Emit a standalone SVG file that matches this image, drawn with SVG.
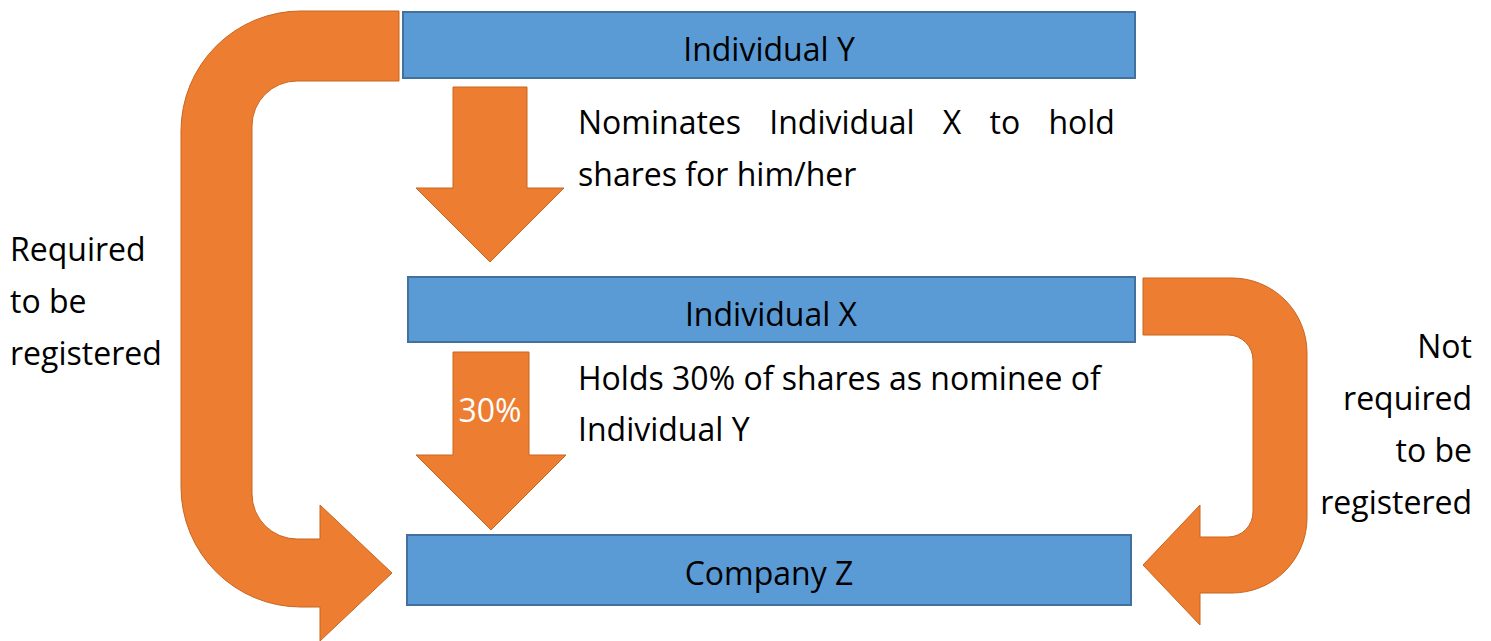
<svg xmlns="http://www.w3.org/2000/svg" width="1491" height="641" viewBox="0 0 1491 641">
<style>
.box{fill:#5B9BD5;stroke:#41719C;stroke-width:2}
.arr{fill:#ED7D31;stroke:#C9651F;stroke-width:1}
text{font-family:"Open Sans","Noto Sans","Liberation Sans",sans-serif;font-size:32px;fill:#000}
.c{text-anchor:middle}
.r{text-anchor:end}
.w{fill:#FFFFFF;font-size:32px;text-anchor:middle}
</style>
<rect width="1491" height="641" fill="#FFFFFF"/>
<g id="connectors">
  <path id="req" class="arr" d="M399,11 L301,11 A120,120 0 0 0 181,131 L181,487 A120,120 0 0 0 301,607 L320,607 L320,641 L392,573 L320,505 L320,539 L297,539 A45,45 0 0 1 252,494 L252,126 A45,45 0 0 1 297,81 L399,81 Z"/>
  <path id="notreq" class="arr" d="M1143,278 L1232,278 A75,75 0 0 1 1307,353 L1307,518 A75,75 0 0 1 1232,593 L1200,593 L1200,625 L1143,565 L1200,505 L1200,537 L1228,537 A25,25 0 0 0 1253,512 L1253,360 A25,25 0 0 0 1228,335 L1143,335 Z"/>
  <path id="nominates" class="arr" d="M453,87 L527,87 L527,188 L564,188 L490,262 L416,188 L453,188 Z"/>
  <path id="holds" class="arr" d="M453,352 L529,352 L529,455 L566,455 L491,530 L416,455 L453,455 Z"/>
  <text class="w" x="490" y="422">30%</text>
</g>
<g id="node-individual-y">
  <rect class="box" x="403" y="12" width="732" height="66"/>
  <text class="c" x="769" y="61">Individual Y</text>
</g>
<g id="node-individual-x">
  <rect class="box" x="408" y="277" width="727" height="65"/>
  <text class="c" x="771" y="326">Individual X</text>
</g>
<g id="node-company-z">
  <rect class="box" x="407" y="535" width="724" height="70"/>
  <text class="c" x="769" y="585">Company Z</text>
</g>
<g id="labels">
  <text x="578" y="134" word-spacing="19.9">Nominates Individual X to hold</text>
  <text x="578" y="186">shares for him/her</text>
  <text x="578" y="390">Holds 30% of shares as nominee of</text>
  <text x="578" y="441">Individual Y</text>
  <text x="10" y="261">Required</text>
  <text x="10" y="313">to be</text>
  <text x="10" y="365">registered</text>
  <text class="r" x="1472" y="358">Not</text>
  <text class="r" x="1472" y="410">required</text>
  <text class="r" x="1472" y="462">to be</text>
  <text class="r" x="1472" y="514">registered</text>
</g>
</svg>
